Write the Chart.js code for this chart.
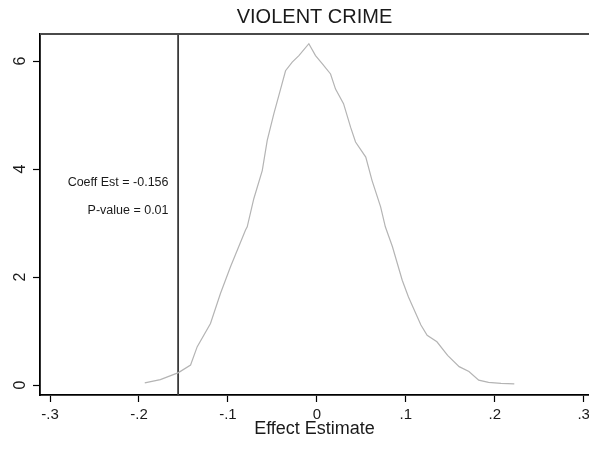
<!DOCTYPE html>
<html lang="en">
<head>
  <meta charset="UTF-8">
  <title>Violent Crime</title>
  <script src="https://cdn.jsdelivr.net/npm/chart.js"></script>
  <style>
    body {
      margin: 0;
      background-color: #ffffff;
    }
    #wrap {
      width: 589px;
      height: 452px;
    }
  </style>
</head>
<body>
  <div id="wrap">
    <canvas id="densityChart" width="589" height="452"></canvas>
  </div>

  <script>
    // density of the placebo estimates
    const effectX = [-0.1935, -0.176, -0.1556, -0.142, -0.1345, -0.1196, -0.1083, -0.0971, -0.0802, -0.0783,
                     -0.0709, -0.0614, -0.0558, -0.0484, -0.0408, -0.0352, -0.0277, -0.0202, -0.009, -0.0015,
                     0.006, 0.0154, 0.021, 0.030, 0.038, 0.0435, 0.055, 0.062, 0.0717, 0.077,
                     0.085, 0.096, 0.103, 0.117, 0.124, 0.135, 0.147, 0.160, 0.171, 0.182,
                     0.193, 0.207, 0.222];
    const densityY = [0.04, 0.10, 0.23, 0.37, 0.71, 1.14, 1.70, 2.19, 2.87, 2.93,
                      3.45, 3.97, 4.53, 5.02, 5.48, 5.82, 5.98, 6.10, 6.32, 6.10,
                      5.95, 5.76, 5.48, 5.21, 4.77, 4.50, 4.22, 3.79, 3.30, 2.93,
                      2.56, 1.94, 1.63, 1.11, 0.92, 0.80, 0.55, 0.34, 0.25, 0.09,
                      0.05, 0.03, 0.02];

    const xTicks = [-0.3, -0.2, -0.1, 0, 0.1, 0.2, 0.3];
    const xTickLabels = ['-.3', '-.2', '-.1', '0', '.1', '.2', '.3'];
    const yTicks = [0, 2, 4, 6];
    const yTickLabels = ['0', '2', '4', '6'];

    const coeffEst = -0.156;
    const pValue = 0.01;
    const notes = ['Coeff Est = -0.156', 'P-value = 0.01'];

    const xMin = -0.3113, xMax = 0.306;
    const yMin = -0.185, yMax = 6.5;

    const FONT = "'Liberation Sans', Arial, sans-serif";

    const curve = effectX.map((x, i) => ({ x: x, y: densityY[i] }));
    const estLine = [{ x: coeffEst, y: yMin }, { x: coeffEst, y: yMax }];

    // top frame line and the two text notes
    const extras = {
      id: 'extras',
      afterDatasetsDraw(chart) {
        const { ctx, chartArea, scales } = chart;
        ctx.save();
        ctx.strokeStyle = '#4a4a4a';
        ctx.lineWidth = 2;
        ctx.beginPath();
        ctx.moveTo(chartArea.left, chartArea.top);
        ctx.lineTo(chartArea.right, chartArea.top);
        ctx.stroke();

        ctx.fillStyle = '#1a1a1a';
        ctx.font = '12.5px ' + FONT;
        ctx.textAlign = 'right';
        ctx.textBaseline = 'middle';
        const tx = scales.x.getPixelForValue(-0.1668);
        ctx.fillText(notes[0], tx, scales.y.getPixelForValue(3.75));
        ctx.fillText(notes[1], tx, scales.y.getPixelForValue(3.23));
        ctx.restore();
      }
    };

    new Chart(document.getElementById('densityChart'), {
      type: 'line',
      data: {
        datasets: [
          {
            data: curve,
            borderColor: '#b4b4b4',
            borderWidth: 1.2,
            pointRadius: 0,
            tension: 0,
            fill: false
          },
          {
            data: estLine,
            borderColor: '#3a3a3a',
            borderWidth: 1.8,
            pointRadius: 0,
            fill: false
          }
        ]
      },
      options: {
        responsive: false,
        animation: false,
        layout: { padding: 0 },
        plugins: {
          legend: { display: false },
          tooltip: { enabled: false },
          title: {
            display: true,
            text: 'VIOLENT CRIME',
            fullSize: false,
            color: '#1a1a1a',
            font: { family: FONT, size: 20, weight: 'normal' },
            padding: { top: 5, bottom: 5 }
          }
        },
        scales: {
          x: {
            type: 'linear',
            min: xMin,
            max: xMax,
            afterBuildTicks: s => { s.ticks = xTicks.map(v => ({ value: v })); },
            afterFit: s => { s.height = 57; s.paddingLeft = 0; s.paddingRight = 0; },
            ticks: {
              color: '#1a1a1a',
              font: { family: FONT, size: 15 },
              padding: 4,
              maxRotation: 0,
              callback: v => xTickLabels[xTicks.indexOf(v)]
            },
            grid: {
              drawOnChartArea: false,
              tickLength: 7,
              tickColor: '#000000',
              tickWidth: 1.2
            },
            border: { color: '#000000', width: 1.8 },
            title: {
              display: true,
              text: 'Effect Estimate',
              color: '#1a1a1a',
              font: { family: FONT, size: 18 },
              padding: { top: 0, bottom: 12 }
            }
          },
          y: {
            min: yMin,
            max: yMax,
            afterBuildTicks: s => { s.ticks = yTicks.map(v => ({ value: v })); },
            afterFit: s => { s.width = 40; s.paddingTop = 0; s.paddingBottom = 0; },
            ticks: {
              color: '#1a1a1a',
              font: { family: FONT, size: 16 },
              minRotation: 90,
              maxRotation: 90,
              crossAlign: 'center',
              padding: 8,
              callback: v => yTickLabels[yTicks.indexOf(v)]
            },
            grid: {
              drawOnChartArea: false,
              tickLength: 7,
              tickColor: '#000000',
              tickWidth: 1.2
            },
            border: { color: '#000000', width: 1.8 }
          }
        }
      },
      plugins: [extras]
    });
  </script>
</body>
</html>
